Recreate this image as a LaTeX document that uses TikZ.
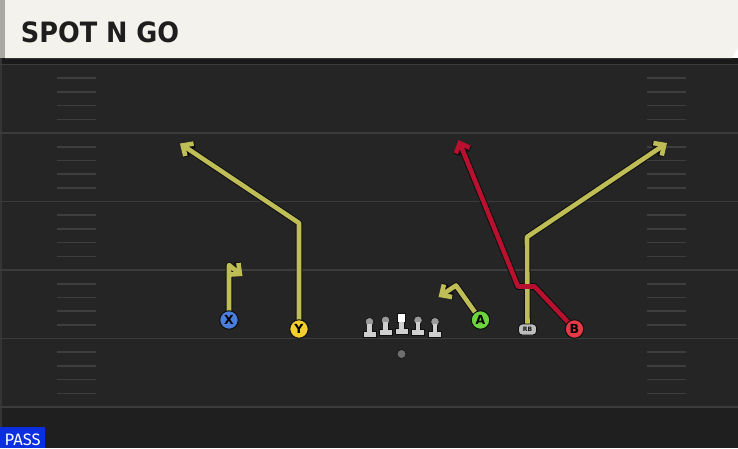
\documentclass[tikz,border=0pt]{standalone}
\usepackage{fontspec}
\usepackage{graphicx}
\setmainfont{DejaVu Sans}
\newfontfamily\titlefont{DejaVu Sans}
\newfontfamily\passfont{Fira Sans}
\usetikzlibrary{arrows.meta}
\definecolor{cream}{HTML}{F4F2EC}
\definecolor{creamedge}{HTML}{A9A9A2}
\definecolor{field}{HTML}{252525}
\definecolor{band}{HTML}{1A1A1A}
\definecolor{yardline}{HTML}{3C3C3C}
\definecolor{hashc}{HTML}{3E3E3E}
\definecolor{bottomc}{HTML}{1F1F1F}
\definecolor{routey}{HTML}{BFBD56}
\definecolor{router}{HTML}{B8102F}
\definecolor{outl}{HTML}{0E0F10}
\definecolor{xblue}{HTML}{4A7EDD}
\definecolor{yyellow}{HTML}{F2CE2E}
\definecolor{agreen}{HTML}{6CD43C}
\definecolor{bred}{HTML}{E63946}
\definecolor{rbgray}{HTML}{BDBDBD}
\definecolor{linegray}{HTML}{CFCFCF}
\definecolor{knobgray}{HTML}{9A9A9A}
\definecolor{ballgray}{HTML}{6E6E6E}
\definecolor{passblue}{HTML}{0A2EE0}
\definecolor{titlec}{HTML}{1E1E1E}
\pgfdeclarelayer{bg}
\pgfdeclarelayer{routes}
\pgfsetlayers{bg,routes,main}
\tikzset{
  player/.style={circle, draw=outl, line width=1pt, minimum size=18.5pt, inner sep=0pt,
    font=\bfseries\fontsize{12.5}{12.5}\selectfont, text=black},
  rbnode/.style={rounded corners=3.5pt, draw=outl, line width=0.9pt, fill=rbgray, minimum width=18pt,
    minimum height=11pt, inner sep=0pt, font=\bfseries\fontsize{6}{6}\selectfont, text=outl},
  routeout/.style={draw=outl, line width=6.6pt, line join=round,
    -{Straight Barb[length=8pt,width=15pt]}},
  routeyel/.style={draw=routey, line width=4.6pt, line join=round,
    -{Straight Barb[length=8pt,width=15pt]}},
  routered/.style={draw=router, line width=4.6pt, line join=round,
    -{Straight Barb[length=8pt,width=15pt]}},
  hashmark/.style={draw=hashc, line width=1.6pt},
  yard/.style={draw=yardline, line width=1.8pt},
  lineman/.pic={
    \fill[linegray, draw=outl, line width=0.6pt] (-6.6,336.8) rectangle (6.6,330.8);
    \fill[linegray, draw=outl, line width=0.6pt] (-2.4,331.2) rectangle (2.4,322.5);
    \fill[knobgray, draw=outl, line width=0.6pt] (0,321.8) circle (4.3pt);
    \fill[linegray] (-2.1,331.6) rectangle (2.1,323.5);
  },
  centerman/.pic={
    \fill[linegray, draw=outl, line width=0.6pt] (-6.6,333.8) rectangle (6.6,327.8);
    \fill[linegray, draw=outl, line width=0.6pt] (-2.4,328.2) rectangle (2.4,321);
    \fill[white, draw=outl, line width=0.6pt] (-4,313) rectangle (4,322);
    \fill[linegray] (-2.1,328.6) rectangle (2.1,322.4);
  }
}
\begin{document}
\begin{tikzpicture}[x=1pt, y=-1pt]
\useasboundingbox (0,0) rectangle (738,448);
\begin{pgfonlayer}{bg}
  % field
  \fill[field] (0,58) rectangle (738,448);
  \fill[bottomc] (0,407) rectangle (738,448);
  \fill[band] (0,58) rectangle (738,64);
  \fill[yardline!70!field] (0,58) rectangle (1.6,448);
  \foreach \yy in {64.5,133,201.5,270,338.5,407} {\draw[yard] (0,\yy) -- (738,\yy);}
  \foreach \k in {0,...,4} {
    \foreach \j in {1,...,4} {
      \pgfmathsetmacro\hy{64.5+68.5*\k+13.7*\j}
      \draw[hashmark] (56.5,\hy) -- (95.5,\hy);
      \draw[hashmark] (647,\hy) -- (686,\hy);
    }
  }
  % header
  \fill[cream] (5,0) -- (738,0) -- (738,47) -- (732,58) -- (5,58) -- cycle;
  \fill[creamedge] (0,0) rectangle (5,58);
\end{pgfonlayer}
\node[anchor=base west, inner sep=0pt, text=titlec] (title) at (20.7,42.3)
  {\resizebox{158.3pt}{20.8pt}{\titlefont\bfseries SPOT N GO}};
% players
\node[player, fill=xblue] (X) at (229,320) {X};
\node[player, fill=yyellow] (Y) at (299,329) {Y};
\node[player, fill=agreen] (A) at (480.5,320) {A};
\node[player, fill=bred] (B) at (574.5,329) {B};
\node[rbnode] (RB) at (527.5,329.5) {RB};
\pic (lt) at (369.5,0) {lineman};
\pic (lg) at (385.5,-1.5) {lineman};
\pic (c) at (401.5,0) {centerman};
\pic (rg) at (418,-1.5) {lineman};
\pic (rt) at (435,0) {lineman};
\node[circle, fill=ballgray, draw=outl, line width=0.6pt, minimum size=9pt, inner sep=0pt] (ball) at (401.5,354) {};
% route corners and ends
\coordinate (xc) at (229,265);
\coordinate (xe) at (242.5,276);
\coordinate (yc) at (299,223);
\coordinate (ye) at (180,143.5);
\coordinate (ac) at (456,285.5);
\coordinate (ae) at (438.5,297);
\coordinate (rc) at (527,237);
\coordinate (re) at (667,143);
\coordinate (bc1) at (534.5,286.5);
\coordinate (bc2) at (518,286.5);
\coordinate (be) at (458.5,140);
\begin{pgfonlayer}{routes}
  \draw[routeout] (X.center) -- (xc) -- (xe);
  \draw[routeout] (Y.center) -- (yc) -- (ye);
  \draw[routeout] (A.center) -- (ac) -- (ae);
  \draw[routeout] (RB.center) -- (rc) -- (re);
  \draw[routeout] (B.center) -- (bc1) -- (bc2) -- (be);
  \draw[routeyel] (X.center) -- (xc) -- (xe);
  \draw[routeyel] (Y.center) -- (yc) -- (ye);
  \draw[routeyel] (A.center) -- (ac) -- (ae);
  \draw[routeyel] (RB.center) -- (rc) -- (re);
  \draw[routered] (B.center) -- (bc1) -- (bc2) -- (be);
\end{pgfonlayer}
% pass label
\node[fill=passblue, minimum width=45pt, minimum height=20.5pt, inner sep=0pt, anchor=south west] (passbox) at (0,448) {};
\node[anchor=base west, inner sep=0pt, text=white] (pass) at (4.5,445)
  {\resizebox{36pt}{11.6pt}{\passfont PASS}};
\end{tikzpicture}
\end{document}
